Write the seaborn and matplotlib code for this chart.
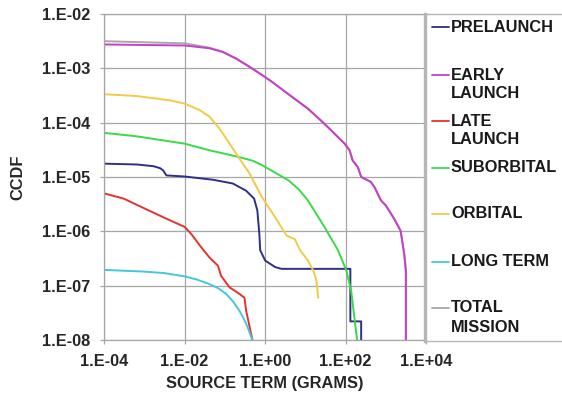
import numpy as np
import pandas as pd
import seaborn as sns
import matplotlib.pyplot as plt
from matplotlib.ticker import FixedLocator, FuncFormatter, NullLocator


# CCDF curves (x = source term in grams)
prelaunch_x = [1e-4, 6.5e-4, 1.7e-3, 2.5e-3, 2.95e-3, 3.55e-3, 0.0102, 0.051, 0.158, 0.339,
               0.537, 0.646, 0.724, 0.759, 1.01, 1.78, 2.57, 126, 132, 132, 245, 245]
prelaunch_y = [1.76e-5, 1.7e-5, 1.58e-5, 1.45e-5, 1.32e-5, 1.07e-5, 1.02e-5, 8.9e-6, 7.6e-6,
               5.6e-6, 4.0e-6, 2.4e-6, 8.9e-7, 4.5e-7, 2.9e-7, 2.2e-7, 2.04e-7, 2.04e-7,
               2.04e-7, 2.2e-8, 2.2e-8, 9.8e-9]

early_x = [1e-4, 0.0102, 0.0417, 0.0891, 0.191, 0.407, 0.871, 1.51, 3.16, 11.7, 30, 95,
           126, 151, 204, 245, 355, 427, 525, 760, 1000, 1620, 2340, 2880, 3160, 3160]
early_y = [2.75e-3, 2.63e-3, 2.34e-3, 2.0e-3, 1.51e-3, 1.07e-3, 7.4e-4, 5.6e-4, 3.7e-4,
           1.8e-4, 9.5e-5, 4.1e-5, 3.1e-5, 2.0e-5, 1.5e-5, 1.0e-5, 8.7e-6, 8.1e-6, 6.5e-6,
           3.7e-6, 3.0e-6, 1.7e-6, 1.02e-6, 3.8e-7, 1.9e-7, 9.8e-9]

late_x = [1e-4, 3.1e-4, 9.5e-4, 2.95e-3, 0.0102, 0.0148, 0.024, 0.0417, 0.0676, 0.0813,
          0.132, 0.229, 0.309, 0.339, 0.49]
late_y = [5.0e-6, 4.0e-6, 2.7e-6, 1.82e-6, 1.2e-6, 8.9e-7, 5.5e-7, 3.3e-7, 2.34e-7, 1.51e-7,
          9.3e-8, 7.1e-8, 6.0e-8, 3.5e-8, 9.8e-9]

suborbital_x = [1e-4, 6.5e-4, 0.0102, 0.0417, 0.191, 0.49, 0.832, 1.51, 3.8, 6.8, 11.7,
                30, 65, 105, 138, 166, 195]
suborbital_y = [6.5e-5, 5.6e-5, 4.1e-5, 3.1e-5, 2.4e-5, 2.0e-5, 1.66e-5, 1.29e-5, 8.7e-6,
                6.0e-6, 3.7e-6, 1.2e-6, 4.5e-7, 1.9e-7, 8.1e-8, 2.6e-8, 9.8e-9]

orbital_x = [1e-4, 6.5e-4, 4.4e-3, 0.0102, 0.024, 0.0417, 0.0741, 0.132, 0.229, 0.407,
             0.832, 1.78, 3.47, 5.5, 7.4, 11.7, 15.8, 19.1, 20.9]
orbital_y = [3.34e-4, 3.09e-4, 2.57e-4, 2.24e-4, 1.7e-4, 1.29e-4, 7.8e-5, 4.1e-5, 2.2e-5,
             1.18e-5, 4.3e-6, 1.82e-6, 8.3e-7, 7.2e-7, 4.5e-7, 2.9e-7, 1.9e-7, 1.23e-7, 6.0e-8]

longterm_x = [1e-4, 9.5e-4, 3.2e-3, 0.0102, 0.02, 0.0417, 0.068, 0.107, 0.158, 0.229,
              0.295, 0.372, 0.49]
longterm_y = [1.95e-7, 1.82e-7, 1.7e-7, 1.48e-7, 1.3e-7, 1.07e-7, 9.0e-8, 7.1e-8, 5.2e-8,
              3.5e-8, 2.5e-8, 1.7e-8, 9.8e-9]

total_x = [1e-4, 0.0102, 0.0417, 0.0891, 0.191, 0.407, 0.871, 1.51, 3.16, 11.7, 30, 95,
           126, 151, 204, 245, 355, 427, 525, 760, 1000, 1620, 2340, 2880, 3160, 3160]
total_y = [3.16e-3, 2.88e-3, 2.4e-3, 2.02e-3, 1.52e-3, 1.08e-3, 7.45e-4, 5.65e-4, 3.73e-4,
           1.82e-4, 9.6e-5, 4.15e-5, 3.12e-5, 2.02e-5, 1.51e-5, 1.01e-5, 8.75e-6, 8.15e-6,
           6.55e-6, 3.72e-6, 3.02e-6, 1.71e-6, 1.03e-6, 3.82e-7, 1.91e-7, 9.8e-9]

series_names = ["PRELAUNCH", "EARLY\nLAUNCH", "LATE\nLAUNCH", "SUBORBITAL", "ORBITAL",
                "LONG TERM", "TOTAL\nMISSION"]
series_data = [(prelaunch_x, prelaunch_y), (early_x, early_y), (late_x, late_y),
               (suborbital_x, suborbital_y), (orbital_x, orbital_y),
               (longterm_x, longterm_y), (total_x, total_y)]
colors = ["#2e2f86", "#c63fcb", "#e3322f", "#3ad94a", "#f0cc45", "#45c6df", "#a8a8a8"]

x_ticks = [1e-4, 1e-2, 1e0, 1e2, 1e4]
y_ticks = [1e-8, 1e-7, 1e-6, 1e-5, 1e-4, 1e-3, 1e-2]

sns.set_style("white")
plt.rcParams["font.family"] = ["Liberation Sans", "DejaVu Sans"]
plt.rcParams["font.weight"] = "bold"

fig = plt.figure(figsize=(5.62, 3.93), dpi=100)
ax = fig.add_axes([104 / 562, 53 / 393, 322 / 562, 326 / 393])

# total mission drawn first so the early launch curve sits on top of it
order = [6, 0, 1, 2, 3, 4, 5]
for i in order:
    xs, ys = series_data[i]
    df = pd.DataFrame({"x": xs, "y": ys})
    sns.lineplot(data=df, x="x", y="y", ax=ax, color=colors[i], linewidth=1.4,
                 sort=False, estimator=None, legend=False)

ax.set_xscale("log")
ax.set_yscale("log")
ax.set_xlim(1e-4, 1e4)
ax.set_ylim(1e-8, 1e-2)

fmt = FuncFormatter(lambda v, p: "1.E%+03d" % int(round(np.log10(v))))
ax.xaxis.set_major_locator(FixedLocator(x_ticks))
ax.yaxis.set_major_locator(FixedLocator(y_ticks))
ax.xaxis.set_minor_locator(NullLocator())
ax.yaxis.set_minor_locator(NullLocator())
ax.xaxis.set_major_formatter(fmt)
ax.yaxis.set_major_formatter(fmt)

ax.grid(True, color="#a6a6a6", linewidth=0.9)
ax.tick_params(axis="both", which="major", length=3, width=0.9, color="#a6a6a6",
               labelsize=11.8, direction="out", left=True, bottom=True)
ax.tick_params(axis="x", pad=7)
ax.tick_params(axis="y", pad=7)
for side in ["left", "bottom", "top"]:
    ax.spines[side].set_color("#a6a6a6")
    ax.spines[side].set_linewidth(0.9)
ax.spines["right"].set_visible(False)

ax.set_xlabel("SOURCE TERM (GRAMS)", fontsize=11.8, fontweight="bold", labelpad=5)
ax.set_ylabel("CCDF", fontsize=11.8, fontweight="bold", labelpad=12)

# Excel-style legend panel on the right
leg = fig.add_axes([425 / 562, 52 / 393, 145 / 562, 327 / 393])
leg.set_xlim(425, 570)
leg.set_ylim(341, 14)
leg.set_xticks([])
leg.set_yticks([])
leg.patch.set_alpha(0)
leg.spines["right"].set_visible(False)
leg.spines["left"].set_color("#b5b5b5")
leg.spines["left"].set_linewidth(2.4)
for side in ["top", "bottom"]:
    leg.spines[side].set_color("#b5b5b5")
    leg.spines[side].set_linewidth(1.0)

entry_y = [27, 75, 121, 168, 214, 262, 308]
for name, c, yy in zip(series_names, colors, entry_y):
    leg.plot([432, 449], [yy, yy], color=c, linewidth=1.3)
    for k, line in enumerate(name.split("\n")):
        leg.text(451, yy + k * 19, line, fontsize=11.8, fontweight="bold",
                 va="center", ha="left", color="#1a1a1a")

fig.savefig("out.png", dpi=100)
